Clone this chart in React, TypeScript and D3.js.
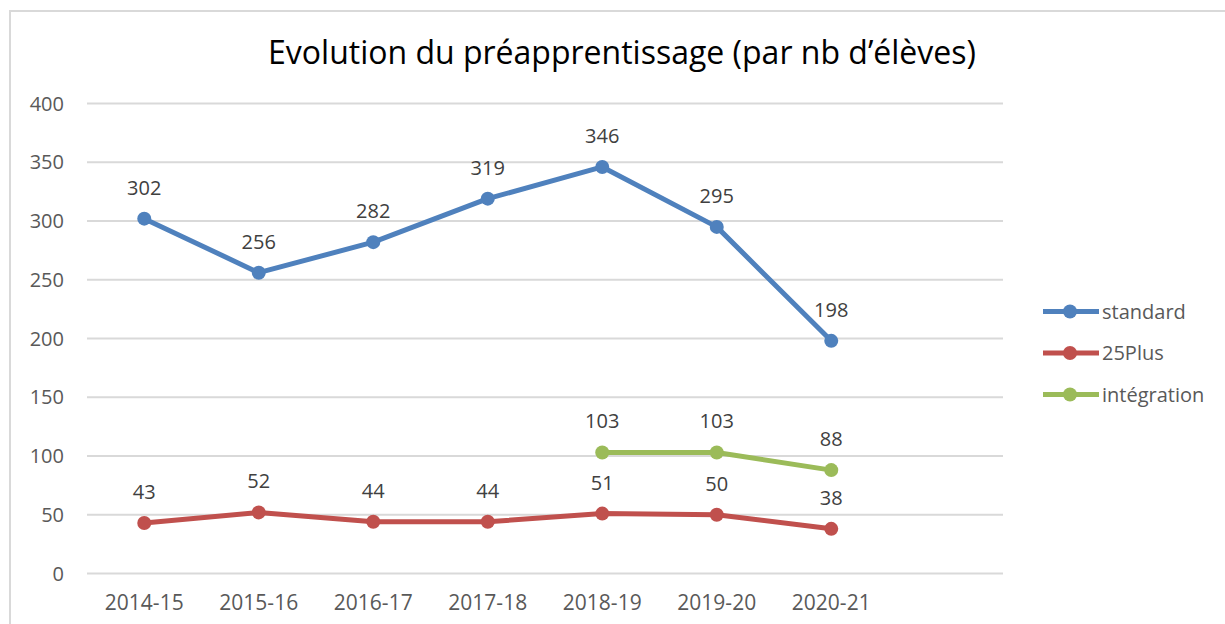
import React, { useEffect, useRef } from 'react';
import * as d3 from 'd3';

const categories = ['2014-15', '2015-16', '2016-17', '2017-18', '2018-19', '2019-20', '2020-21'];
const standardValues: (number | null)[] = [302, 256, 282, 319, 346, 295, 198];
const plusValues: (number | null)[] = [43, 52, 44, 44, 51, 50, 38];
const integrationValues: (number | null)[] = [null, null, null, null, 103, 103, 88];
const yTicks = [0, 50, 100, 150, 200, 250, 300, 350, 400];

interface Series {
    name: string;
    color: string;
    values: (number | null)[];
}

const series: Series[] = [
    { name: 'standard', color: '#4F81BD', values: standardValues },
    { name: '25Plus', color: '#C0504D', values: plusValues },
    { name: 'intégration', color: '#9BBB59', values: integrationValues },
];

const App: React.FC = () => {
    const ref = useRef<SVGSVGElement>(null);

    useEffect(() => {
        if (!ref.current) return;
        const svg = d3.select(ref.current);
        svg.selectAll('*').remove();

        const width = 1225;
        const height = 624;
        const font = '"Open Sans", sans-serif';
        const textColor = '#595959';

        // chart frame
        svg.append('rect')
            .attr('x', 10).attr('y', 11)
            .attr('width', width + 20).attr('height', height + 20)
            .attr('fill', 'white').attr('stroke', '#D9D9D9').attr('stroke-width', 2);

        // plot area: 8 slots, the last one stays empty
        const x = d3.scaleBand<string>()
            .domain([...categories, ''])
            .range([87, 1003]);
        const y = d3.scaleLinear().domain([0, 400]).range([573.5, 103.5]);
        const cx = (c: string) => (x(c) ?? 0) + x.bandwidth() / 2;

        // title
        svg.append('text')
            .attr('x', 622).attr('y', 64)
            .attr('text-anchor', 'middle')
            .attr('font-family', font).attr('font-size', 32)
            .attr('fill', '#000')
            .text('Evolution du préapprentissage (par nb d’élèves)');

        // grid
        svg.append('g').selectAll('line').data(yTicks).enter().append('line')
            .attr('x1', 87).attr('x2', 1003)
            .attr('y1', (d) => y(d)).attr('y2', (d) => y(d))
            .attr('stroke', '#D9D9D9').attr('stroke-width', 2);

        // y labels
        svg.append('g').selectAll('text').data(yTicks).enter().append('text')
            .attr('x', 64).attr('y', (d) => y(d))
            .attr('dy', '0.35em')
            .attr('text-anchor', 'end')
            .attr('font-family', font).attr('font-size', 20)
            .attr('fill', textColor)
            .text((d) => d);

        // x labels
        svg.append('g').selectAll('text').data(categories).enter().append('text')
            .attr('x', (d) => cx(d)).attr('y', 603)
            .attr('dy', '0.35em')
            .attr('text-anchor', 'middle')
            .attr('font-family', font).attr('font-size', 21)
            .attr('fill', textColor)
            .text((d) => d);

        // series
        series.forEach((s) => {
            const pts = categories
                .map((c, i) => ({ c, v: s.values[i] }))
                .filter((p) => p.v !== null) as { c: string; v: number }[];
            const line = d3.line<{ c: string; v: number }>()
                .x((d) => cx(d.c))
                .y((d) => y(d.v));
            const g = svg.append('g');
            g.append('path')
                .datum(pts)
                .attr('fill', 'none')
                .attr('stroke', s.color)
                .attr('stroke-width', 5)
                .attr('stroke-linejoin', 'round')
                .attr('d', line);
            g.selectAll('circle').data(pts).enter().append('circle')
                .attr('cx', (d) => cx(d.c)).attr('cy', (d) => y(d.v))
                .attr('r', 7).attr('fill', s.color);
            g.selectAll('text').data(pts).enter().append('text')
                .attr('x', (d) => cx(d.c)).attr('y', (d) => y(d.v) - 31)
                .attr('dy', '0.35em')
                .attr('text-anchor', 'middle')
                .attr('font-family', font).attr('font-size', 20)
                .attr('fill', '#404040')
                .text((d) => d.v);
        });

        // legend
        const legend = svg.append('g').selectAll('g').data(series).enter().append('g')
            .attr('transform', (_, i) => `translate(1043, ${311.5 + i * 41.5})`);
        legend.append('line')
            .attr('x1', 0).attr('x2', 56)
            .attr('stroke', (d) => d.color).attr('stroke-width', 5);
        legend.append('circle')
            .attr('cx', 27).attr('r', 7).attr('fill', (d) => d.color);
        legend.append('text')
            .attr('x', 59).attr('dy', '0.35em')
            .attr('font-family', font).attr('font-size', 20)
            .attr('fill', textColor)
            .text((d) => d.name);
    }, []);

    return (
        <svg
            ref={ref}
            width={1225}
            height={624}
            style={{ position: 'absolute', left: 0, top: 0, background: 'white' }}
        />
    );
};

export default App;
